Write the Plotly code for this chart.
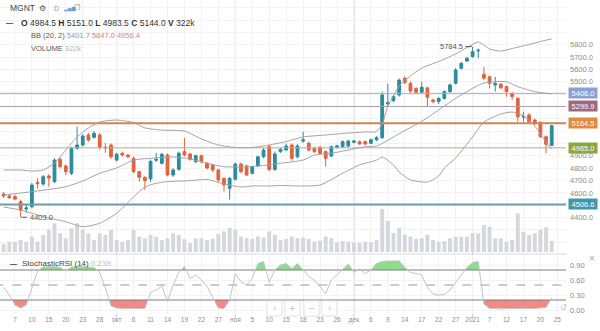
import plotly.graph_objects as go

# ---------------- data ----------------
# daily candles, one entry per trading session (index = bar number)
open_ = [4591, 4575, 4570, 4529, 4470, 4488, 4685, 4672, 4737, 4691,
         4872, 4818, 4759, 4961, 4988, 5069, 5050, 5069, 4970, 4988,
         4866, 4921, 4907, 4880, 4772, 4726, 4714, 4865, 4840, 4907,
         4745, 4791, 4934, 4915, 4853, 4901, 4840, 4826, 4786, 4718,
         4637, 4710, 4834, 4818, 4759, 4818, 4893, 4975, 4790, 4934,
         4947, 4988, 4893, 5020, 5002, 4961, 4970, 4934, 4899, 4970,
         4974, 4980, 5010, 5015, 5015, 5002, 5030, 5047, 5320, 5347,
         5393, 5528, 5487, 5446, 5415, 5450, 5352, 5340, 5365, 5420,
         5487, 5609, 5668, 5703, 5750, 5560, 5540, 5474, 5480, 5460,
         5407, 5366, 5215, 5231, 5190, 5172, 5055, 4984.5]
high = [4607, 4590, 4585, 4545, 4505, 4680, 4720, 4745, 4750, 4880,
        4885, 4830, 4975, 5136, 5075, 5085, 5100, 5085, 5004, 5000,
        4925, 4935, 4915, 4895, 4780, 4735, 4870, 4925, 4925, 4920,
        4800, 4935, 5045, 4925, 4910, 4910, 4850, 4835, 4795, 4725,
        4730, 4845, 4845, 4830, 4820, 4900, 4965, 4990, 4935, 4965,
        5000, 5000, 4995, 5095, 5015, 4970, 4980, 4945, 4985, 4990,
        5025, 5030, 5030, 5025, 5025, 5040, 5060, 5420, 5485, 5395,
        5525, 5545, 5500, 5455, 5500, 5460, 5365, 5375, 5430, 5485,
        5610, 5660, 5700, 5784.5, 5770, 5622, 5550, 5540, 5490, 5470,
        5415, 5375, 5258, 5245, 5200, 5180, 5065, 5151.0]
low = [4559, 4550, 4540, 4403, 4440, 4475, 4635, 4660, 4650, 4680,
       4800, 4745, 4745, 4950, 4975, 5015, 5040, 4950, 4925, 4875,
       4855, 4895, 4880, 4760, 4691, 4624, 4690, 4850, 4830, 4735,
       4730, 4780, 4895, 4860, 4840, 4840, 4790, 4770, 4690, 4610,
       4545, 4700, 4760, 4735, 4750, 4810, 4880, 4775, 4780, 4925,
       4940, 4860, 4880, 5005, 4935, 4925, 4910, 4812, 4890, 4960,
       4965, 4970, 5000, 4990, 4985, 4995, 5020, 5040, 5295, 5335,
       5380, 5480, 5410, 5400, 5405, 5300, 5325, 5320, 5355, 5410,
       5480, 5600, 5660, 5695, 5690, 5515, 5447, 5420, 5440, 5380,
       5352, 5177, 5177, 5165, 5150, 5045, 4920, 4983.5]
close = [4575, 4563, 4550, 4462, 4478, 4664, 4675, 4731, 4720, 4866,
         4812, 4772, 4961, 4988, 5061, 5028, 5083, 4969, 4966, 4893,
         4913, 4907, 4893, 4772, 4726, 4699, 4855, 4872, 4913, 4745,
         4786, 4921, 4907, 4872, 4901, 4853, 4802, 4786, 4705, 4664,
         4718, 4834, 4772, 4745, 4812, 4893, 4947, 4790, 4915, 4953,
         4980, 4880, 4980, 5030, 4947, 4934, 4921, 4880, 4974, 4980,
         5015, 5020, 5020, 4996, 4996, 5030, 5047, 5393, 5330, 5380,
         5514, 5495, 5425, 5415, 5455, 5375, 5340, 5365, 5420, 5474,
         5595, 5649, 5690, 5743, 5755, 5528, 5487, 5487, 5452, 5420,
         5380, 5217, 5220, 5177, 5163, 5055, 4994, 5144.0]
# volume, thousands of shares
volume_k = [232, 299, 299, 348, 299, 444, 299, 493, 638, 832,
            542, 397, 687, 832, 638, 542, 348, 542, 493, 638,
            348, 299, 348, 638, 444, 397, 493, 444, 348, 397,
            542, 493, 368, 252, 397, 400, 350, 380, 520, 600,
            700, 650, 450, 400, 380, 450, 420, 600, 500, 350,
            380, 450, 400, 420, 380, 300, 330, 450, 400, 280,
            320, 300, 280, 260, 300, 280, 350, 1250, 900, 550,
            700, 500, 450, 380, 400, 500, 350, 299, 319, 397,
            444, 444, 444, 542, 542, 783, 734, 397, 397, 299,
            348, 1122, 589, 493, 542, 638, 716, 322]
# Stochastic RSI (14)
stoch_rsi = [0.45, 0.30, 0.10, 0.04, 0.10, 0.42, 0.78, 0.86, 0.86, 0.87,
             0.85, 0.78, 0.86, 0.87, 0.87, 0.86, 0.85, 0.75, 0.45, 0.08,
             0.04, 0.03, 0.03, 0.03, 0.03, 0.03, 0.35, 0.40, 0.48, 0.17,
             0.50, 0.75, 0.87, 0.63, 0.70, 0.60, 0.47, 0.25, 0.04, 0.03,
             0.20, 0.72, 0.57, 0.50, 0.63, 0.93, 0.97, 0.55, 0.80, 0.90,
             0.93, 0.83, 0.93, 0.80, 0.67, 0.60, 0.47, 0.33, 0.60, 0.70,
             0.80, 0.92, 0.75, 0.82, 0.73, 0.80, 0.93, 0.97, 0.98, 0.98,
             0.98, 0.85, 0.75, 0.73, 0.70, 0.45, 0.32, 0.30, 0.31, 0.40,
             0.55, 0.70, 0.85, 0.95, 0.97, 0.12, 0.03, 0.03, 0.02, 0.03,
             0.03, 0.02, 0.03, 0.03, 0.03, 0.04, 0.05, 0.239]
# Bollinger Bands (20, 2), sampled along the bars
bb_upper_idx = [0, 3, 5, 7, 9, 11, 13, 15, 17, 20, 23, 25, 28, 32, 35, 38, 41, 44,
                47, 50, 53, 57, 61, 64, 66, 67, 68, 69, 70, 72, 74, 77, 80, 82,
                84, 85, 86, 88, 90, 93, 95, 97]
bb_upper = [4785, 4785, 4777, 4785, 4842, 4947, 5053, 5126, 5174, 5190, 5170, 5126,
            5109, 5101, 5037, 4988, 4968, 4968, 4988, 5016, 5053, 5069, 5085, 5093,
            5097, 5158, 5304, 5385, 5466, 5547, 5611, 5664, 5725, 5777, 5822, 5798,
            5765, 5749, 5769, 5802, 5826, 5847.0]
bb_mid_idx = [0, 3, 5, 8, 11, 14, 17, 20, 23, 26, 30, 33, 36, 39, 43, 46, 49, 53,
              55, 58, 61, 64, 66, 67, 70, 74, 77, 80, 83, 85, 87, 89, 91, 94, 97]
bb_mid = [4583, 4599, 4610, 4628, 4650, 4696, 4759, 4802, 4866, 4880, 4891, 4875,
          4840, 4812, 4812, 4822, 4840, 4866, 4907, 4921, 4947, 4974, 4980, 5000,
          5080, 5180, 5271, 5366, 5447, 5490, 5500, 5500, 5460, 5420, 5401.7]
bb_lower_idx = [0, 3, 5, 8, 11, 14, 17, 20, 23, 25, 27, 29, 33, 36, 39, 42, 44, 47,
                49, 52, 56, 60, 63, 66, 67, 69, 70, 72, 75, 77, 78, 80, 83, 85, 88,
                90, 92, 94, 96, 97]
bb_lower = [4486, 4461, 4435, 4397, 4367, 4326, 4354, 4435, 4567, 4648, 4678, 4691,
            4699, 4709, 4672, 4648, 4656, 4656, 4660, 4656, 4664, 4759, 4826, 4866,
            4891, 4826, 4769, 4705, 4688, 4737, 4802, 4883, 5053, 5174, 5239, 5255,
            5223, 5142, 5012, 4956.4]
# horizontal price levels and their tag colours
level_prices = [5406.0, 5299.9, 5164.5, 4965.0, 4506.6]
level_line_colors = ["#a7aec6", "#ab9ea4", "#cc8552", "#aeae9e", "#6f9ea6"]
level_line_widths = [1, 1, 2, 1, 2]
level_tag_colors = ["#8d9fd3", "#a1677b", "#df8b40", "#8ba63c", "#3f97a8"]
# x-axis labels, one every three bars
tick_text = ["7", "10", "15", "20", "23", "28", "окт", "6", "11", "14", "19", "22",
             "27", "ноя", "5", "10", "15", "18", "23", "26", "дек", "6", "9", "14",
             "17", "22", "27", "2021", "7", "12", "17", "20", "25"]
month_start_bars = [20, 41, 62, 83]
price_ticks = [4400, 4600, 4700, 4800, 4900, 5500, 5600, 5700, 5800]
stoch_ticks = [0.0, 0.3, 0.6, 0.9]

# ---------------- geometry ----------------
W, H = 600, 331
PLOT_R = 566          # right edge of the panes, px
MAIN_BOTTOM = 252     # bottom of the price pane, px
ST_TOP, ST_BOTTOM = 255, 314
BAR0, BAR_STEP = 3.65, 5.65   # px of bar 0 and spacing between bars


def px(x):
    return x / W


def py(y):
    return 1 - y / H


x_lo = (0 - BAR0) / BAR_STEP
x_hi = (PLOT_R - BAR0) / BAR_STEP
P_TOP, P_PER_PX = 6162.0, 8.097
price_range = [P_TOP - P_PER_PX * MAIN_BOTTOM, P_TOP]
vol_range = [0, 29 * MAIN_BOTTOM]
stoch_range = [(310 - ST_BOTTOM) / 50, (310 - ST_TOP) / 50]

bars = list(range(len(close)))
tick_idx = list(range(2, 2 + 3 * len(tick_text), 3))

UP, DOWN = "#2a8c9c", "#e4613d"
FONT = "Liberation Sans, Arial, sans-serif"

fig = go.Figure()

# volume (base axis of the price pane, hidden)
fig.add_trace(go.Bar(x=bars, y=volume_k, width=0.7, marker=dict(color="#d4d8dc", line_width=0),
                     xaxis="x", yaxis="y", hoverinfo="skip"))

# price levels
for lp, lc, lw in zip(level_prices, level_line_colors, level_line_widths):
    fig.add_trace(go.Scatter(x=[x_lo - 1, x_hi + 1], y=[lp, lp], mode="lines",
                             line=dict(color=lc, width=lw), xaxis="x", yaxis="y3",
                             hoverinfo="skip"))

# Bollinger bands
for bx, by, bc in [(bb_upper_idx, bb_upper, "#ad9f9f"), (bb_mid_idx, bb_mid, "#9ea3ad"),
                   (bb_lower_idx, bb_lower, "#ad9f9f")]:
    fig.add_trace(go.Scatter(x=bx, y=by, mode="lines",
                             line=dict(color=bc, width=1, shape="spline", smoothing=0.6),
                             xaxis="x", yaxis="y3", hoverinfo="skip"))

# candles
fig.add_trace(go.Candlestick(x=bars, open=open_, high=high, low=low, close=close,
                             increasing=dict(line=dict(color=UP, width=1), fillcolor=UP),
                             decreasing=dict(line=dict(color=DOWN, width=1), fillcolor=DOWN),
                             whiskerwidth=0, xaxis="x", yaxis="y3", hoverinfo="skip"))


# Stochastic RSI: shaded zones beyond the 0.8 / 0.2 levels
def zone_polygons(vals, th, above):
    polys, cur = [], None
    n = len(vals)
    for i in range(n):
        inside = vals[i] > th if above else vals[i] < th
        if inside:
            if cur is None:
                if i == 0:
                    cur = [(0, th)]
                else:
                    t = (th - vals[i - 1]) / (vals[i] - vals[i - 1])
                    cur = [(i - 1 + t, th)]
            cur.append((i, vals[i]))
        elif cur is not None:
            t = (th - vals[i - 1]) / (vals[i] - vals[i - 1])
            cur.append((i - 1 + t, th))
            polys.append(cur)
            cur = None
    if cur is not None:
        cur.append((n - 1, th))
        polys.append(cur)
    xs, ys = [], []
    for p in polys:
        xs += [q[0] for q in p] + [None]
        ys += [q[1] for q in p] + [None]
    return xs, ys


for th, above, col in [(0.8, True, "#8fdd8c"), (0.2, False, "#f28a84")]:
    zx, zy = zone_polygons(stoch_rsi, th, above)
    fig.add_trace(go.Scatter(x=zx, y=zy, mode="lines", fill="toself", fillcolor=col,
                             line=dict(width=0), xaxis="x2", yaxis="y2", hoverinfo="skip"))

for lv, dash, lc in [(0.8, "solid", "#7d7d7d"), (0.5, "dash", "#9a9a9a"), (0.2, "solid", "#7d7d7d")]:
    fig.add_trace(go.Scatter(x=[x_lo - 1, x_hi + 1], y=[lv, lv], mode="lines",
                             line=dict(color=lc, width=1, dash=dash), xaxis="x2", yaxis="y2",
                             hoverinfo="skip"))

fig.add_trace(go.Scatter(x=bars, y=stoch_rsi, mode="lines", line=dict(color="#c4c4c4", width=1),
                         xaxis="x2", yaxis="y2", hoverinfo="skip"))

# ---------------- layout ----------------
grid = "#f2f2f2"
axis_font = dict(family=FONT, size=7.5, color="#8c8c8c")
fig.update_layout(
    width=W, height=H, margin=dict(l=0, r=0, t=0, b=0),
    paper_bgcolor="white", plot_bgcolor="white", showlegend=False,
    font=dict(family=FONT, size=8, color="#444"),
    xaxis=dict(domain=[0, px(PLOT_R)], range=[x_lo, x_hi], anchor="y", tickvals=tick_idx,
               showticklabels=False, ticks="", showgrid=True, gridcolor=grid, zeroline=False,
               showline=False, rangeslider=dict(visible=False), fixedrange=True),
    yaxis=dict(domain=[py(MAIN_BOTTOM), 1], range=vol_range, visible=False, fixedrange=True),
    yaxis3=dict(overlaying="y", anchor="x", side="right", range=price_range, tickvals=price_ticks,
                ticktext=[f"{v:.1f}" for v in price_ticks], ticks="", tickfont=axis_font,
                ticklabelstandoff=3, showgrid=True, gridcolor=grid, zeroline=False,
                minor=dict(dtick=100, tick0=0, showgrid=True, gridcolor=grid), fixedrange=True),
    xaxis2=dict(domain=[0, px(PLOT_R)], range=[x_lo, x_hi], anchor="y2", tickvals=tick_idx,
                ticktext=tick_text, ticks="", tickfont=dict(family=FONT, size=6.5, color="#8c8c8c"),
                showgrid=True, gridcolor=grid, zeroline=False, showline=False, fixedrange=True,
                rangeslider=dict(visible=False)),
    yaxis2=dict(domain=[py(ST_BOTTOM), py(ST_TOP)], range=stoch_range, anchor="x2", side="right",
                tickvals=stoch_ticks, ticktext=[f"{v:.2f}" for v in stoch_ticks], ticks="",
                tickfont=axis_font, ticklabelstandoff=3, showgrid=True, gridcolor=grid,
                zeroline=False, fixedrange=True),
)

shapes = []
# month separators through both panes
for mb in month_start_bars:
    shapes.append(dict(type="line", xref="x", yref="paper", x0=mb, x1=mb, y0=py(318), y1=1,
                       line=dict(color="#cdcdcd", width=1), layer="between"))
# pane separator
shapes.append(dict(type="line", xref="paper", yref="paper", x0=0, x1=px(PLOT_R),
                   y0=py(254), y1=py(254), line=dict(color="#d9d9d9", width=1)))
# pointer lines for the extreme labels
shapes.append(dict(type="line", xref="x", yref="y3", x0=83 - 1.3, x1=83 - 0.15,
                   y0=5784.5, y1=5784.5, line=dict(color="#555", width=1)))
shapes.append(dict(type="line", xref="x", yref="y3", x0=3 + 0.15, x1=3 + 1.1,
                   y0=4403.0, y1=4403.0, line=dict(color="#555", width=1)))
# navigation buttons in the lower pane
nav = [(267, "‹"), (285, "+"), (304, "−"), (322, "›")]
for bx, sym in nav:
    shapes.append(dict(type="rect", xref="paper", yref="paper", x0=px(bx), x1=px(bx + 15),
                       y0=py(316), y1=py(301), line=dict(color="#e3e3e3", width=1),
                       fillcolor="rgba(255,255,255,0.85)"))
fig.update_layout(shapes=shapes)

ann = []
# level tags on the price scale
for lp, tc in zip(level_prices, level_tag_colors):
    ann.append(dict(xref="paper", yref="y3", x=px(567.5), y=lp, xanchor="left", yanchor="middle",
                    text=f"\u00a0{lp:.1f}\u00a0", showarrow=False, bgcolor=tc, borderpad=0.5,
                    font=dict(family=FONT, size=7.5, color="white")))
# extreme labels
ann.append(dict(xref="x", yref="y3", x=83 - 1.4, y=5784.5, xanchor="right", yanchor="middle",
                text="5784.5", showarrow=False, font=dict(family=FONT, size=7.5, color="#555")))
ann.append(dict(xref="x", yref="y3", x=3 + 1.3, y=4403.0, xanchor="left", yanchor="middle",
                text="4403.0", showarrow=False, font=dict(family=FONT, size=7.5, color="#555")))
# legend block, top left
ann.append(dict(xref="paper", yref="paper", x=px(8), y=py(8), xanchor="left", yanchor="middle",
                text="MGNT", showarrow=False, font=dict(family=FONT, size=8.5, color="#444")))
ann.append(dict(xref="paper", yref="paper", x=px(37), y=py(8), xanchor="left", yanchor="middle",
                text="<b>⚙</b>", showarrow=False, font=dict(family="DejaVu Sans", size=8, color="#555")))
ann.append(dict(xref="paper", yref="paper", x=px(52), y=py(8), xanchor="left", yanchor="middle",
                text="D", showarrow=False, font=dict(family=FONT, size=7, color="#7da0c8")))
ann.append(dict(xref="paper", yref="paper", x=px(61), y=py(8), xanchor="left", yanchor="middle",
                text="▂▄▆", showarrow=False, font=dict(family="DejaVu Sans", size=5, color="#6e9fd6")))
ann.append(dict(xref="paper", yref="paper", x=px(72), y=py(8), xanchor="left", yanchor="middle",
                text="❐", showarrow=False, font=dict(family="DejaVu Sans", size=7, color="#999")))
ann.append(dict(xref="paper", yref="paper", x=px(4), y=py(22.5), xanchor="left", yanchor="middle",
                text="<b>—</b>", showarrow=False, font=dict(family=FONT, size=7, color="#333")))
ohlc = (f"<b>O</b> {open_[-1]:.1f} <b>H</b> {high[-1]:.1f} <b>L</b> {low[-1]:.1f} "
        f"<b>C</b> {close[-1]:.1f} <b>V</b> {volume_k[-1]}k")
ann.append(dict(xref="paper", yref="paper", x=px(19), y=py(22.5), xanchor="left", yanchor="middle",
                text=ohlc, showarrow=False, font=dict(family=FONT, size=8.5, color="#333")))
bb_txt = (f"BB (20, 2) <span style='color:#8d9bb8'>{bb_mid[-1]:.1f}</span> "
          f"<span style='color:#d77c7c'>{bb_upper[-1]:.1f}</span> "
          f"<span style='color:#c08f8f'>{bb_lower[-1]:.1f}</span>")
ann.append(dict(xref="paper", yref="paper", x=px(29), y=py(35.5), xanchor="left", yanchor="middle",
                text=bb_txt, showarrow=False, font=dict(family=FONT, size=7.5, color="#555")))
ann.append(dict(xref="paper", yref="paper", x=px(29), y=py(49), xanchor="left", yanchor="middle",
                text=f"VOLUME <span style='color:#b5b5b5'>{volume_k[-1]}k</span>", showarrow=False,
                font=dict(family=FONT, size=7.5, color="#555")))
# lower-pane legend
ann.append(dict(xref="paper", yref="paper", x=px(8), y=py(263), xanchor="left", yanchor="middle",
                text="<b>—</b>", showarrow=False, font=dict(family=FONT, size=7, color="#333")))
ann.append(dict(xref="paper", yref="paper", x=px(19.5), y=py(263), xanchor="left", yanchor="middle",
                text=f"StochasticRSI (14) <span style='color:#9fd49f'>{stoch_rsi[-1]:.3f}</span>",
                showarrow=False, font=dict(family=FONT, size=8, color="#444")))
ann.append(dict(xref="paper", yref="paper", x=px(591.5), y=py(258), xanchor="center", yanchor="middle",
                text="×", showarrow=False, font=dict(family=FONT, size=10, color="#aaa")))
ann.append(dict(xref="paper", yref="paper", x=px(563), y=py(307.5), xanchor="center", yanchor="middle",
                text="↺", showarrow=False, font=dict(family="DejaVu Sans", size=8, color="#bbb")))
for bx, sym in nav:
    ann.append(dict(xref="paper", yref="paper", x=px(bx + 7.5), y=py(308.5), xanchor="center",
                    yanchor="middle", text=sym, showarrow=False,
                    font=dict(family="DejaVu Sans", size=8, color="#bdbdbd")))
fig.update_layout(annotations=ann)

fig.write_html("out.html")
